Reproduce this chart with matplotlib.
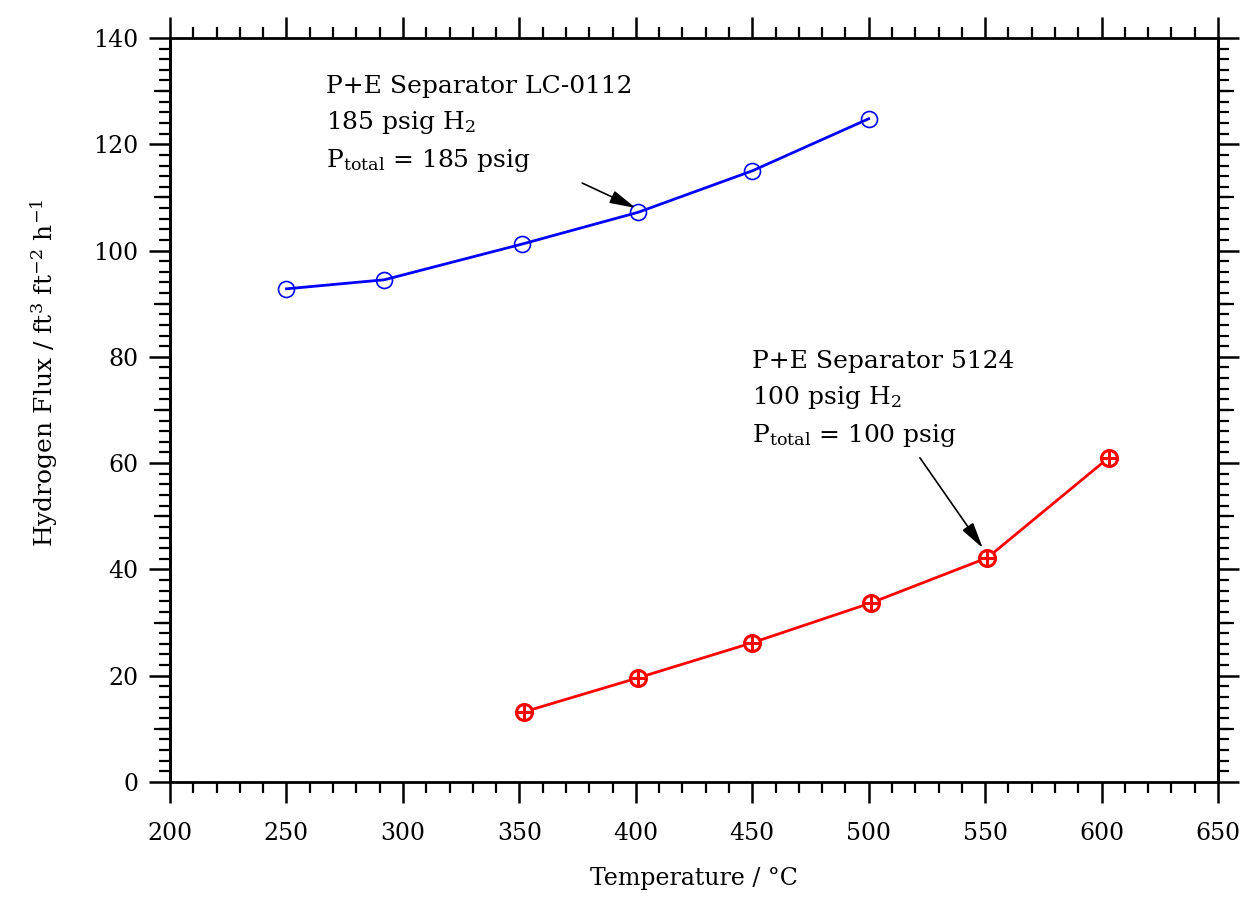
import matplotlib.pyplot as plt
from matplotlib.ticker import MultipleLocator, FixedLocator, NullFormatter

# Data
temp_lc0112 = [250, 292, 351, 401, 450, 500]
flux_lc0112 = [92.8, 94.5, 101.2, 107.2, 115.0, 124.8]

temp_5124 = [352, 401, 450, 501, 551, 603]
flux_5124 = [13.2, 19.6, 26.2, 33.7, 42.2, 61.0]

x_ticks = [200, 250, 300, 350, 400, 450, 500, 550, 600, 650]
y_ticks = [0, 20, 40, 60, 80, 100, 120, 140]
y_mid_ticks = [10, 30, 50, 70, 90, 110, 130]

plt.rcParams.update(
    {
        "font.family": "DejaVu Serif",
        "mathtext.fontset": "dejavuserif",
        "font.size": 17,
    }
)

fig = plt.figure(figsize=(12.43, 8.98), dpi=100)
fig.patch.set_facecolor("white")
ax = fig.add_axes([0.1368, 0.1292, 0.8431, 0.8285])

ax.plot(temp_lc0112, flux_lc0112, color="#0000ff", linewidth=2.0,
        marker="o", markersize=11.5, markerfacecolor="none",
        markeredgecolor="#0000ff", markeredgewidth=1.2)
ax.plot(temp_5124, flux_5124, color="#ff0000", linewidth=2.0,
        marker="o", markersize=11.5, markerfacecolor="white",
        markeredgecolor="#ff0000", markeredgewidth=2.2)
ax.plot(temp_5124, flux_5124, linestyle="none", marker="+", markersize=11.5,
        markeredgecolor="#ff0000", markeredgewidth=2.2)

ax.set_xlim(200, 650)
ax.set_ylim(0, 140)
ax.set_xticks(x_ticks)
ax.set_yticks(y_ticks)
ax.xaxis.set_minor_locator(MultipleLocator(10))
ax.yaxis.set_minor_locator(MultipleLocator(2))

for side in ax.spines.values():
    side.set_linewidth(2.0)

ax.tick_params(which="major", direction="out", length=15, width=1.8,
               top=True, right=True, labelsize=17)
ax.tick_params(which="minor", direction="out", length=8, width=1.6,
               top=True, right=True)
ax.tick_params(axis="x", which="major", pad=14)
ax.tick_params(axis="y", which="major", pad=8)

# medium-length ticks every 10 units on both y axes
for loc in ("left", "right"):
    sec = ax.secondary_yaxis(loc)
    sec.yaxis.set_major_locator(FixedLocator(y_mid_ticks))
    sec.yaxis.set_major_formatter(NullFormatter())
    sec.tick_params(which="major", direction="out", length=11.5, width=1.6)
    sec.tick_params(which="minor", length=0)
    sec.spines[loc].set_linewidth(2.0)

ax.set_xlabel("Temperature / °C", fontsize=17, labelpad=16)
ax.set_ylabel(r"Hydrogen Flux / ft$^{3}$ ft$^{-2}$ h$^{-1}$", fontsize=18)
ax.yaxis.set_label_coords(-0.105, 0.55)

ax.text(267, 133.0, "P+E Separator LC-0112\n185 psig H$_2$\nP$_{\\mathrm{total}}$ = 185 psig",
        ha="left", va="top", fontsize=18, linespacing=1.55)
ax.annotate("", xy=(400, 108.0), xytext=(377, 112.7),
            arrowprops=dict(arrowstyle="-|>,head_length=0.8,head_width=0.2",
                            color="black", lw=1.2,
                            mutation_scale=20, shrinkA=0, shrinkB=0))

ax.text(450, 81.2, "P+E Separator 5124\n100 psig H$_2$\nP$_{\\mathrm{total}}$ = 100 psig",
        ha="left", va="top", fontsize=18, linespacing=1.55)
ax.annotate("", xy=(549, 44.0), xytext=(522, 61.0),
            arrowprops=dict(arrowstyle="-|>,head_length=0.8,head_width=0.2",
                            color="black", lw=1.2,
                            mutation_scale=20, shrinkA=0, shrinkB=0))

fig.savefig("out.png", dpi=100, facecolor="white")
